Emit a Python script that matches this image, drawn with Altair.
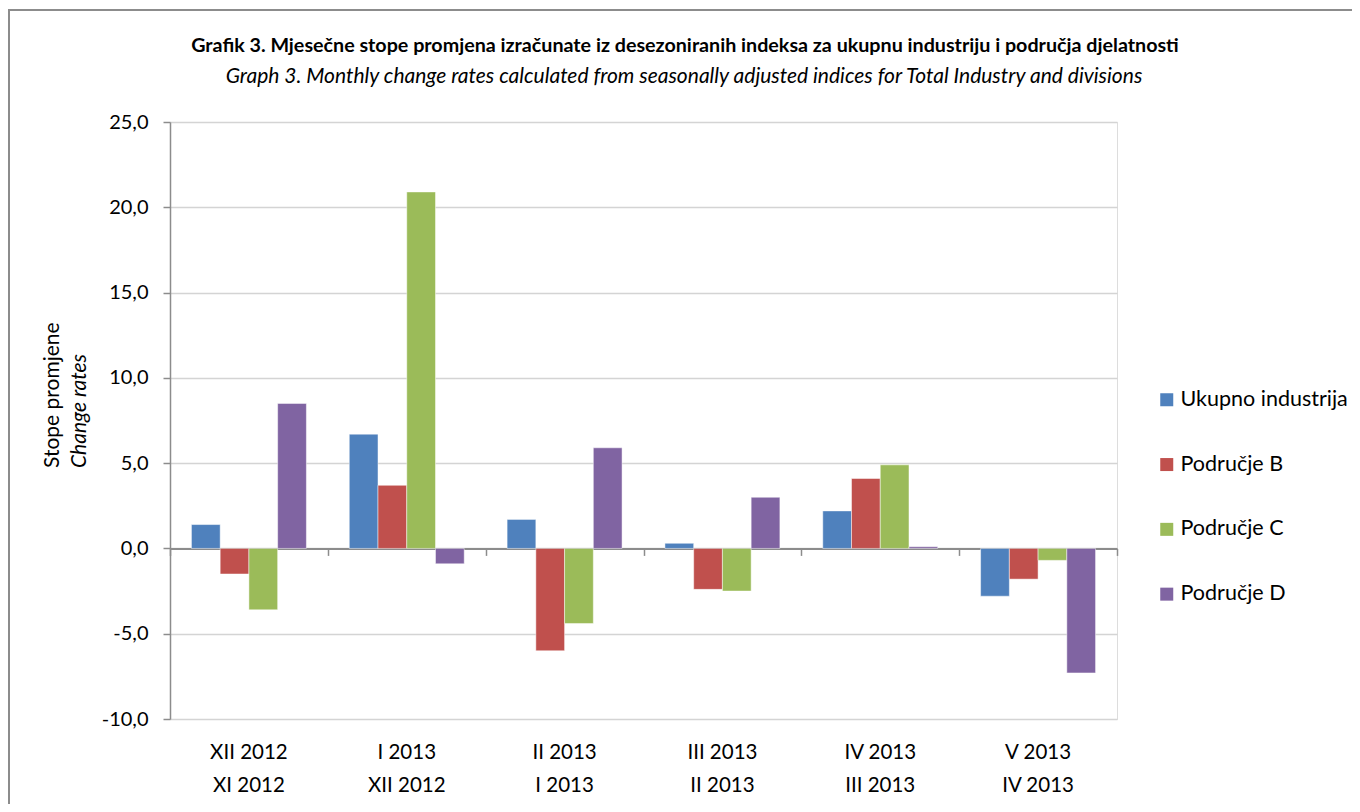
import altair as alt
import pandas as pd

categories = ["XII 2012|XI 2012", "I 2013|XII 2012", "II 2013|I 2013",
              "III 2013|II 2013", "IV 2013|III 2013", "V 2013|IV 2013"]
series = ["Ukupno industrija", "Područje B", "Područje C", "Područje D"]
ukupno = [1.4, 6.7, 1.7, 0.3, 2.2, -2.8]
podrucje_b = [-1.5, 3.7, -6.0, -2.4, 4.1, -1.8]
podrucje_c = [-3.6, 20.9, -4.4, -2.5, 4.9, -0.7]
podrucje_d = [8.5, -0.9, 5.9, 3.0, 0.1, -7.3]
colors = ["#4F81BD", "#C0504D", "#9BBB59", "#8064A2"]
y_ticks = [-10, -5, 0, 5, 10, 15, 20, 25]

title_hr = "Grafik 3. Mjesečne stope promjena izračunate iz desezoniranih indeksa za ukupnu industriju i područja djelatnosti"
title_en = "Graph 3. Monthly change rates calculated from seasonally adjusted indices for Total Industry and divisions"

rows = []
for s, vals in zip(series, [ukupno, podrucje_b, podrucje_c, podrucje_d]):
    for c, v in zip(categories, vals):
        rows.append({"cat": c, "series": s, "value": v})
df = pd.DataFrame(rows)

W, H = 947, 597
FONT = "Lato"

xscale = alt.Scale(domain=categories, paddingInner=0, paddingOuter=0)
yscale = alt.Scale(domain=[-10, 25], nice=False, zero=False)

bars = alt.Chart(df).mark_bar(stroke="white", strokeWidth=0.8, strokeOpacity=0.6).encode(
    x=alt.X("cat:N", sort=categories, scale=xscale, title=None,
            axis=alt.Axis(orient="bottom", domain=False, ticks=False, labelAngle=0,
                          labelExpr="split(datum.value, '|')", labelFontSize=20.5,
                          labelLineHeight=33, labelPadding=23, labelColor="#000",
                          labelFont=FONT)),
    xOffset=alt.XOffset("series:N", sort=series,
                        scale=alt.Scale(domain=series, paddingInner=0, paddingOuter=0.746)),
    y=alt.Y("value:Q", scale=yscale, title=None,
            axis=alt.Axis(values=y_ticks,
                          labelExpr="replace(replace(format(datum.value, '.1f'), '.', ','), '\u2212', '-')",
                          labelFontSize=20, labelFont=FONT, labelColor="#000", labelPadding=15,
                          tickSize=7, tickColor="#8c8c8c", domainColor="#8c8c8c", domainWidth=1.5,
                          gridColor="#d4d4d4", gridWidth=1.5, tickWidth=1.5)),
    color=alt.Color("series:N", sort=series, scale=alt.Scale(domain=series, range=colors),
                    legend=alt.Legend(title=None, orient="none", legendX=986, legendY=267,
                                      symbolType="square", symbolSize=169, symbolStrokeWidth=0,
                                      labelFontSize=21.5, labelFont=FONT, labelColor="#000",
                                      labelOffset=3, rowPadding=41.8, labelLimit=300)),
)

zero_axis = alt.Chart(df).mark_point(opacity=0).encode(
    x=alt.X("cat:N", sort=categories, scale=xscale, title=None,
            axis=alt.Axis(orient="bottom", offset=-170.6, labels=False, tickBand="extent",
                          tickSize=7, tickColor="#8c8c8c", domainColor="#8c8c8c",
                          domainWidth=2, tickWidth=1.5)),
    y=alt.Y("value:Q", scale=yscale),
)

title1 = alt.Chart(pd.DataFrame({"t": [title_hr]})).mark_text(
    font=FONT, fontSize=19.7, fontWeight="bold", color="#000", align="center", baseline="middle"
).encode(text="t:N", x=alt.value(515), y=alt.value(-76))

title2 = alt.Chart(pd.DataFrame({"t": [title_en]})).mark_text(
    font=FONT, fontSize=21, fontStyle="italic", color="#000", align="center", baseline="middle"
).encode(text="t:N", x=alt.value(514), y=alt.value(-45))

ytitle1 = alt.Chart(pd.DataFrame({"t": ["Stope promjene"]})).mark_text(
    font=FONT, fontSize=21, color="#000", align="left", baseline="middle", angle=270
).encode(text="t:N", x=alt.value(-117), y=alt.value(346))

ytitle2 = alt.Chart(pd.DataFrame({"t": ["Change rates"]})).mark_text(
    font=FONT, fontSize=21, fontStyle="italic", color="#000", align="left", baseline="middle", angle=270
).encode(text="t:N", x=alt.value(-90), y=alt.value(346))

border = alt.Chart(pd.DataFrame({"a": [0]})).mark_rect(
    fill=None, stroke="#8c8c8c", strokeWidth=2
).encode(x=alt.value(-161), x2=alt.value(1300), y=alt.value(-112), y2=alt.value(800))

chart = alt.layer(border, bars, zero_axis, title1, title2, ytitle1, ytitle2).resolve_axis(
    x="independent"
).properties(
    width=W, height=H,
    autosize=alt.AutoSizeParams(type="none"),
    padding={"left": 162, "top": 114, "right": 235, "bottom": 85},
).configure_view(stroke=None).configure(font=FONT)

chart.save("out.html", embed_options={"renderer": "svg", "actions": False})
